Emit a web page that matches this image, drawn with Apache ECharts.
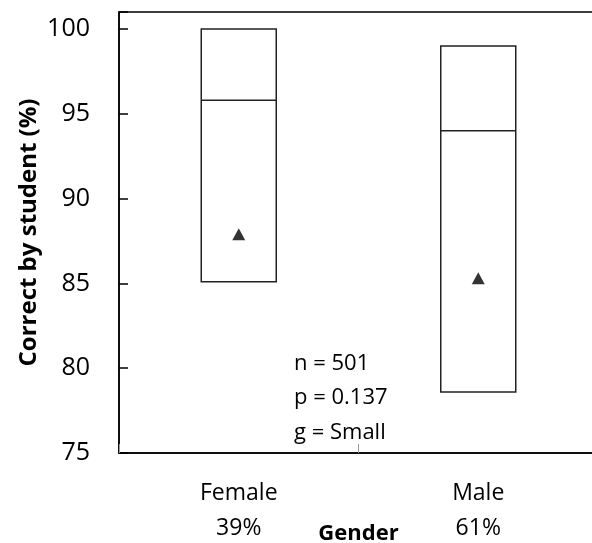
<!DOCTYPE html>
<html><head><meta charset="utf-8">
<script src="https://cdn.jsdelivr.net/npm/echarts@6/dist/echarts.min.js"></script>
<style>html,body{margin:0;padding:0;background:#fff}#c{width:592px;height:543px}</style>
</head><body><div id="c"></div>
<script>
const categories = ['Female', 'Male'];
const shares = ['39%', '61%'];
const q1 = [85.1, 78.6];
const median = [95.8, 94.0];
const q3 = [100.0, 99.0];
const means = [87.9, 85.3];
const yTicks = [75, 80, 85, 90, 95, 100];
const statsText = ['n = 501', 'p = 0.137', 'g = Small'];

const FONT = '"Open Sans", "DejaVu Sans", sans-serif';
const chart = echarts.init(document.getElementById('c'));
chart.setOption({
  animation: false,
  backgroundColor: '#fff',
  textStyle: { fontFamily: FONT, color: '#000' },
  grid: {
    left: 119, right: -6, top: 12, bottom: 90,
    containLabel: false, outerBoundsMode: 'none',
    show: true, borderColor: '#000', borderWidth: 1.5
  },
  xAxis: {
    type: 'category',
    data: categories.map((c, i) => c + '\n' + shares[i]),
    name: 'Gender',
    nameLocation: 'middle',
    nameGap: 70,
    nameMoveOverlap: false,
    nameTextStyle: { fontFamily: FONT, fontWeight: 'bold', fontSize: 22, color: '#000' },
    axisLine: { lineStyle: { color: '#000', width: 1.5 } },
    axisTick: { show: true, inside: true, length: 9, lineStyle: { color: '#999', width: 1 } },
    axisLabel: { fontFamily: FONT, fontSize: 23, color: '#000', margin: 23, lineHeight: 35 },
    splitLine: { show: false }
  },
  yAxis: {
    type: 'value',
    min: 75, max: 101, interval: 5,
    name: 'Correct by student (%)',
    nameLocation: 'middle',
    nameGap: 78,
    nameRotate: 90,
    nameMoveOverlap: false,
    nameTextStyle: { fontFamily: FONT, fontWeight: 'bold', fontSize: 24, color: '#000' },
    axisLine: { show: true, lineStyle: { color: '#000', width: 1.5 } },
    axisTick: { show: true, inside: true, length: 9, lineStyle: { color: '#000', width: 1.5 } },
    axisLabel: {
      fontFamily: FONT, fontSize: 25, color: '#000', margin: 29,
      formatter: v => yTicks.includes(v) ? String(v) : ''
    },
    splitLine: { show: false }
  },
  series: [
    {
      type: 'boxplot',
      boxWidth: [75, 75],
      itemStyle: { color: '#fff', borderColor: '#222', borderWidth: 1.5 },
      data: categories.map((c, i) => [q1[i], q1[i], median[i], q3[i], q3[i]]),
      silent: true
    },
    {
      type: 'scatter',
      symbol: 'triangle',
      symbolSize: [13, 12],
      itemStyle: { color: '#000' },
      data: means.map((m, i) => [i, m]),
      silent: true
    }
  ],
  graphic: [{
    type: 'text',
    left: 294, top: 346,
    style: { text: statsText.join('\n'), font: '22px ' + FONT, fill: '#000', lineHeight: 34.5 }
  }]
});
</script></body></html>
